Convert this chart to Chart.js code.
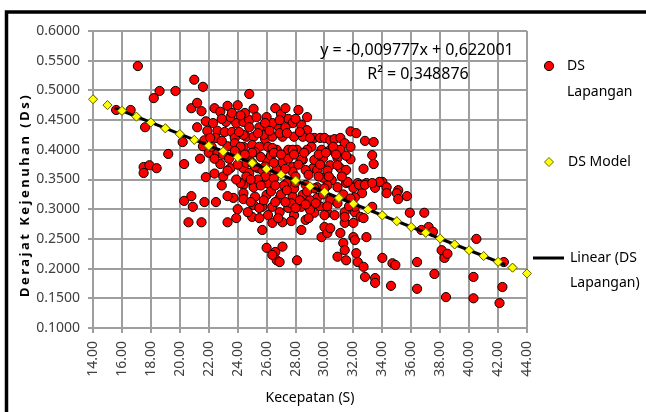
<!DOCTYPE html>
<html>
<head>
<meta charset="utf-8">
<script src="https://cdn.jsdelivr.net/npm/chart.js@4.4.1/dist/chart.umd.min.js"></script>
<style>
  html, body { margin: 0; padding: 0; background: #fff; }
  #wrap { width: 646px; height: 412px; position: relative; }
</style>
</head>
<body>
<div id="wrap"><canvas id="dsChart"></canvas></div>
<script>
// DS Lapangan - kecepatan (S) vs derajat kejenuhan (Ds)
const fieldX = [
  15.6,16.6,17.1,17.6,18.2,18.6,19.7,21.0,20.8,21.2,
  21.6,24.8,26.6,28.2,19.2,20.3,17.5,17.5,17.9,18.4,
  21.8,21.2,21.5,21.8,21.9,22.4,22.8,23.3,24.0,25.1,
  23.2,23.9,24.4,24.8,25.7,22.6,23.1,23.6,23.8,24.6,
  25.1,25.9,26.4,26.8,27.5,27.8,28.4,28.8,28.5,27.1,
  20.2,21.7,21.6,22.0,22.6,22.8,23.5,23.3,23.8,24.4,
  25.0,25.5,26.1,26.7,27.5,28.1,29.1,24.4,24.8,25.4,
  26.0,26.9,27.8,28.5,29.2,24.4,25.1,26.0,27.4,26.4,
  28.0,31.8,32.2,32.8,33.4,33.3,33.4,32.7,29.3,29.7,
  30.0,30.4,30.7,31.1,31.4,29.8,30.4,31.1,29.9,30.9,
  30.4,31.1,31.8,29.5,31.5,29.9,30.5,30.9,31.5,32.3,
  32.9,32.0,32.6,34.0,34.3,34.3,35.1,35.7,33.5,35.9,
  36.9,37.2,31.4,32.1,32.5,31.4,32.0,30.2,30.0,29.8,
  31.1,31.3,32.0,32.9,31.4,30.9,31.5,32.2,32.3,32.7,
  32.8,33.5,34.0,34.7,36.4,28.1,26.0,26.6,27.1,26.7,
  26.9,26.4,25.7,28.4,25.0,26.4,27.1,28.7,29.3,25.7,
  26.4,27.5,28.4,29.0,24.4,25.2,26.0,26.9,27.8,28.5,
  29.5,23.7,24.2,25.1,26.1,28.7,29.5,25.7,26.7,27.8,
  28.7,24.8,26.0,27.1,28.4,29.3,24.2,25.2,26.4,27.8,
  28.8,24.4,25.8,26.9,27.9,24.8,25.5,27.3,30.9,31.6,
  32.4,32.8,33.8,35.0,35.1,36.7,37.5,40.5,38.1,38.3,
  38.5,42.4,32.1,33.5,34.6,34.9,36.4,37.6,38.4,40.3,
  40.3,42.3,42.1,20.3,20.8,20.9,21.7,22.5,20.6,21.5,
  23.3,23.3,24.4,25.1,25.5,26.1,30.2,30.4,30.0,30.7,
  31.4,32.7,32.1,33.3,33.3,22.2,23.0,23.4,24.0,24.6,
  25.2,25.9,26.5,27.2,27.9,29.3,29.9,30.4,30.9,31.7,
  23.0,23.9,24.6,25.4,26.3,27.0,27.7,28.3,29.0,29.7,
  24.0,24.7,26.9,27.9,28.9,22.9,22.4,21.4,22.5,23.5,
  24.5,26.0,27.0,25.0,26.3,27.5,28.2,29.7,30.2,30.6,
  31.8,22.3,22.9,23.6,24.2,25.3,25.9,26.9,27.3,28.8,
  22.1,22.9,24.1,25.4,26.2,27.4,28.3,29.0,22.4,23.8,
  24.5,25.6,26.5,27.0,27.9,28.6,29.6,23.3,24.0,25.0,
  25.9,26.5,27.3,28.0,28.9,29.6,24.9,25.6,26.6,27.4,
  28.0,28.8,30.2,30.0,24.9,25.8,26.6,27.3,28.0,28.7,
  29.4,30.2,23.9,25.5,26.8,27.7,30.1,30.8,31.5,30.3,
  31.2,31.3,32.1,31.8
];
const fieldY = [
  0.467,0.467,0.541,0.438,0.487,0.499,0.499,0.518,0.470,0.438,
  0.506,0.494,0.470,0.467,0.393,0.376,0.371,0.361,0.374,0.369,
  0.354,0.479,0.465,0.448,0.432,0.470,0.464,0.474,0.475,0.469,
  0.447,0.445,0.447,0.450,0.438,0.432,0.430,0.430,0.420,0.422,
  0.422,0.418,0.422,0.440,0.452,0.445,0.442,0.433,0.422,0.422,
  0.413,0.416,0.406,0.395,0.395,0.376,0.369,0.406,0.411,0.405,
  0.408,0.405,0.405,0.400,0.400,0.400,0.405,0.369,0.361,0.369,
  0.363,0.361,0.371,0.383,0.369,0.341,0.341,0.344,0.344,0.445,
  0.452,0.431,0.428,0.415,0.413,0.391,0.376,0.368,0.420,0.420,
  0.420,0.416,0.418,0.420,0.411,0.400,0.400,0.400,0.386,0.386,
  0.374,0.369,0.384,0.366,0.366,0.353,0.349,0.337,0.344,0.344,
  0.344,0.336,0.327,0.346,0.337,0.327,0.332,0.322,0.336,0.294,
  0.294,0.270,0.295,0.295,0.287,0.277,0.277,0.294,0.270,0.253,
  0.260,0.243,0.253,0.253,0.231,0.220,0.214,0.226,0.211,0.203,
  0.186,0.184,0.218,0.209,0.211,0.214,0.235,0.228,0.237,0.214,
  0.211,0.223,0.265,0.265,0.287,0.277,0.278,0.282,0.294,0.304,
  0.304,0.302,0.304,0.299,0.327,0.321,0.324,0.319,0.321,0.324,
  0.319,0.319,0.344,0.337,0.344,0.341,0.337,0.366,0.366,0.363,
  0.366,0.383,0.383,0.379,0.383,0.383,0.405,0.396,0.403,0.400,
  0.400,0.425,0.425,0.428,0.422,0.438,0.438,0.438,0.374,0.346,
  0.341,0.341,0.346,0.327,0.317,0.265,0.262,0.250,0.231,0.218,
  0.225,0.211,0.248,0.176,0.171,0.206,0.166,0.191,0.152,0.186,
  0.150,0.169,0.142,0.314,0.322,0.304,0.312,0.312,0.278,0.278,
  0.278,0.322,0.317,0.307,0.302,0.290,0.260,0.268,0.290,0.290,
  0.287,0.285,0.304,0.304,0.344,0.405,0.392,0.385,0.392,0.378,
  0.372,0.355,0.352,0.340,0.335,0.335,0.325,0.315,0.310,0.305,
  0.355,0.350,0.355,0.350,0.330,0.325,0.310,0.315,0.315,0.305,
  0.300,0.295,0.295,0.290,0.285,0.340,0.360,0.385,0.420,0.455,
  0.462,0.455,0.460,0.395,0.390,0.385,0.375,0.375,0.365,0.405,
  0.405,0.445,0.452,0.462,0.458,0.455,0.445,0.450,0.470,0.455,
  0.420,0.415,0.430,0.428,0.432,0.428,0.430,0.420,0.385,0.398,
  0.392,0.388,0.395,0.392,0.392,0.395,0.392,0.365,0.375,0.378,
  0.372,0.378,0.368,0.355,0.358,0.355,0.350,0.340,0.340,0.332,
  0.345,0.330,0.340,0.335,0.312,0.315,0.312,0.312,0.302,0.308,
  0.310,0.305,0.285,0.285,0.285,0.280,0.395,0.392,0.390,0.355,
  0.355,0.325,0.320,0.318
];

// DS Model
const modelX = [14,15,16,17,18,19,20,21,22,23,24,25,26,27,28,29,30,31,32,33,34,35,36,37,38,39,40,41,42,43,44];
const modelY = [0.4851,0.4753,0.4656,0.4558,0.4460,0.4362,0.4265,0.4167,0.4069,0.3971,0.3874,
  0.3776,0.3678,0.3580,0.3482,0.3385,0.3287,0.3189,0.3091,0.2994,0.2896,
  0.2798,0.2700,0.2603,0.2505,0.2407,0.2309,0.2212,0.2114,0.2016,0.1918];

// Linear (DS Lapangan) - ujung garis trend
const lineX = [15.5, 42.5];
const lineY = [0.4705, 0.2065];

const xTicks = [14,16,18,20,22,24,26,28,30,32,34,36,38,40,42,44];
const yTicks = [0.10,0.15,0.20,0.25,0.30,0.35,0.40,0.45,0.50,0.55,0.60];

const xTitle = "Kecepatan (S)";
const yTitle = "Derajat Kejenuhan (Ds)";
const equationLines = ["y = -0,009777x + 0,622001", "R² = 0,348876"];

const FONT = "'Noto Sans', 'Open Sans', sans-serif";
const GRID = "#9e9e9e";

// garis trend, posisi dari chartArea + batas skala
function drawTrend(chart) {
  const sx = chart.scales.x;
  const sy = chart.scales.y;
  const a = chart.chartArea;
  const px = (v) => a.left + (v - sx.min) / (sx.max - sx.min) * (a.right - a.left);
  const py = (v) => a.bottom - (v - sy.min) / (sy.max - sy.min) * (a.bottom - a.top);
  const c = chart.ctx;
  c.save();
  c.globalAlpha = 1;
  c.globalCompositeOperation = "source-over";
  c.setLineDash([]);
  c.strokeStyle = "#000";
  c.lineWidth = 3;
  c.lineCap = "butt";
  c.beginPath();
  c.moveTo(px(lineX[0]), py(lineY[0]));
  c.lineTo(px(lineX[1]), py(lineY[1]));
  c.stroke();
  c.restore();
}

// legenda, persamaan, judul sumbu Y, bingkai, garis trend
const extrasPlugin = {
  id: "extras",
  afterDraw(chart) {
    drawTrend(chart);
    // diamond DS Model di atas garis
    try {
      const meta = chart.getDatasetMeta(0);
      meta.data.forEach((el) => el.draw(chart.ctx, chart.chartArea));
    } catch (e) { /* biarkan */ }

    const c = chart.ctx;
    c.save();

    // bingkai hitam (kiri + atas)
    c.strokeStyle = "#000";
    c.lineWidth = 3.5;
    c.beginPath();
    c.moveTo(6.5, 412);
    c.lineTo(6.5, 12);
    c.lineTo(646, 12);
    c.stroke();

    // persamaan regresi
    c.fillStyle = "#000";
    c.font = "16px " + FONT;
    c.textAlign = "center";
    c.textBaseline = "middle";
    c.fillText(equationLines[0], 417, 50);
    c.fillText(equationLines[1], 418, 74);

    // legenda
    c.font = "14px " + FONT;
    c.textAlign = "left";
    // DS Lapangan
    c.beginPath();
    c.arc(549, 66, 4.6, 0, Math.PI * 2);
    c.fillStyle = "#ff0000";
    c.fill();
    c.lineWidth = 1;
    c.strokeStyle = "#000";
    c.stroke();
    c.fillStyle = "#000";
    c.fillText("DS", 567, 66);
    c.fillText("Lapangan", 567, 92);
    // DS Model
    c.beginPath();
    c.moveTo(549, 157.5);
    c.lineTo(553.5, 162);
    c.lineTo(549, 166.5);
    c.lineTo(544.5, 162);
    c.closePath();
    c.fillStyle = "#ffff00";
    c.fill();
    c.strokeStyle = "#6b6b00";
    c.stroke();
    c.fillStyle = "#000";
    c.fillText("DS Model", 568, 162);
    // Linear
    c.beginPath();
    c.moveTo(533, 258);
    c.lineTo(564, 258);
    c.strokeStyle = "#000";
    c.lineWidth = 3;
    c.stroke();
    c.fillText("Linear (DS", 570, 258);
    c.fillText("Lapangan)", 570, 283);

    // judul sumbu Y
    c.translate(25, 195);
    c.rotate(-Math.PI / 2);
    c.font = "bold 13px " + FONT;
    c.letterSpacing = "2.5px";
    c.textAlign = "center";
    c.fillText(yTitle, 0, 0);
    c.restore();
  },
};

const canvasCtx = document.getElementById("dsChart").getContext("2d");
const dsChart = new Chart(canvasCtx, {
  type: "scatter",
  data: {
    datasets: [
      {
        label: "DS Model",
        data: modelX.map((x, i) => ({ x: x, y: modelY[i] })),
        pointStyle: "rectRot",
        pointRadius: 4.5,
        backgroundColor: "#ffff00",
        borderColor: "#6b6b00",
        borderWidth: 1,
        order: 0,
      },
      {
        label: "DS Lapangan",
        data: fieldX.map((x, i) => ({ x: x, y: fieldY[i] })),
        pointStyle: "circle",
        pointRadius: 4.6,
        backgroundColor: "#ff0000",
        borderColor: "#000",
        borderWidth: 1,
        order: 2,
      },
    ],
  },
  options: {
    responsive: true,
    maintainAspectRatio: false,
    animation: false,
    events: [],
    layout: { padding: { left: 0, top: 31, right: 119, bottom: 0 } },
    plugins: {
      legend: { display: false },
      tooltip: { enabled: false },
    },
    scales: {
      x: {
        type: "linear",
        min: 14,
        max: 44,
        afterBuildTicks: (s) => { s.ticks = xTicks.map((v) => ({ value: v })); },
        afterFit: (s) => { s.height = 84; },
        ticks: {
          autoSkip: false,
          minRotation: 90,
          maxRotation: 90,
          padding: 8,
          color: "#404040",
          font: { family: FONT, size: 14 },
          callback: (v) => Number(v).toFixed(2),
        },
        grid: { color: GRID, lineWidth: 2, tickLength: 5 },
        border: { color: GRID, width: 2 },
        title: {
          display: true,
          text: xTitle,
          color: "#000",
          font: { family: FONT, size: 14 },
          padding: { top: 0, bottom: 6 },
        },
      },
      y: {
        type: "linear",
        min: 0.1,
        max: 0.6,
        afterBuildTicks: (s) => { s.ticks = yTicks.map((v) => ({ value: v })); },
        afterFit: (s) => { s.width = 93; },
        ticks: {
          padding: 8,
          color: "#404040",
          font: { family: FONT, size: 14 },
          callback: (v) => Number(v).toFixed(4),
        },
        grid: { color: GRID, lineWidth: 2, tickLength: 5 },
        border: { color: GRID, width: 2 },
      },
    },
  },
  plugins: [extrasPlugin],
});
</script>
</body>
</html>
